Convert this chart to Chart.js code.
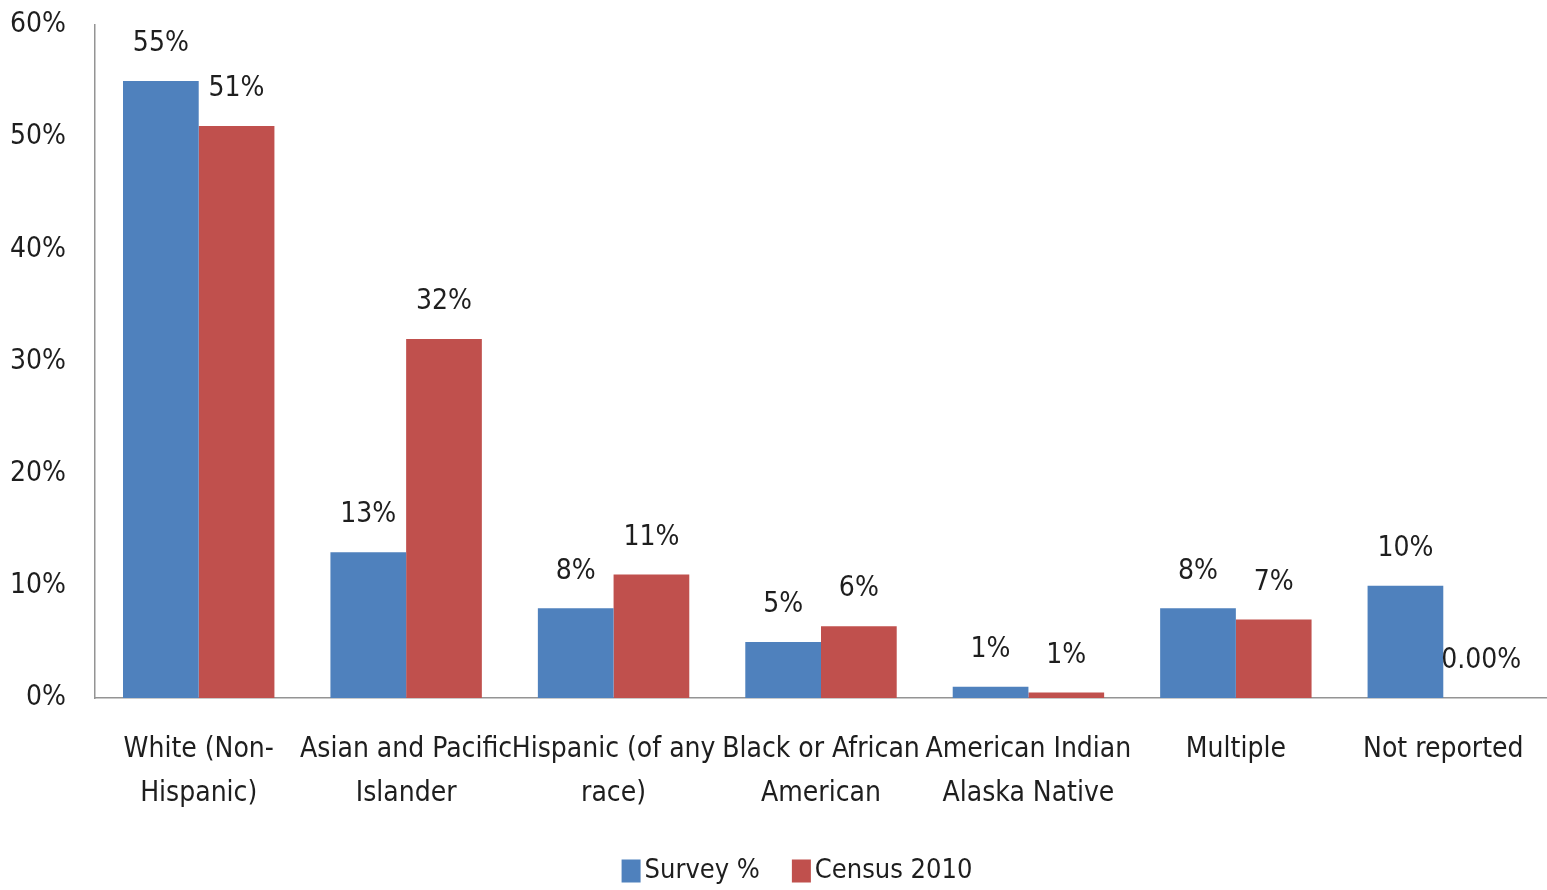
<!DOCTYPE html>
<html>
<head>
<meta charset="utf-8">
<title>Survey vs Census 2010</title>
<script src="https://cdn.jsdelivr.net/npm/chart.js@4.4.1/dist/chart.umd.min.js"></script>
<style>
  html, body { margin: 0; padding: 0; background: #fff; }
  #wrap { width: 1547px; height: 890px; }
</style>
</head>
<body>
<div id="wrap"><canvas id="raceChart" width="1547" height="890"></canvas></div>
<script>
// Data
const categories = [
  ["White (Non-", "Hispanic)"],
  ["Asian and Pacific", "Islander"],
  ["Hispanic (of any", "race)"],
  ["Black or African", "American"],
  ["American Indian", "Alaska Native"],
  ["Multiple"],
  ["Not reported"]
];
const surveyValues = [55, 13, 8, 5, 1, 8, 10];
const censusValues = [51, 32, 11, 6.4, 0.5, 7, 0];
const yTicks = [0, 10, 20, 30, 40, 50, 60];

const FONT = "'Liberation Sans Narrow', 'DejaVu Sans Condensed', 'Liberation Sans', sans-serif";
const TEXT = "#1e1e1e";

function pctLabel(v) {
  return v === 0 ? "0.00%" : Math.round(v) + "%";
}

// value labels above each bar
const barLabels = {
  id: "barLabels",
  afterDatasetsDraw(chart) {
    const ctx = chart.ctx;
    ctx.save();
    ctx.font = "28px " + FONT;
    ctx.fillStyle = TEXT;
    ctx.textAlign = "center";
    ctx.textBaseline = "middle";
    chart.data.datasets.forEach((ds, i) => {
      chart.getDatasetMeta(i).data.forEach((bar, j) => {
        ctx.fillText(pctLabel(ds.data[j]), bar.x, bar.y - 37);
      });
    });
    ctx.restore();
  }
};

// legend drawn under the axis labels (square, small gap, then text)
const bottomLegend = {
  id: "bottomLegend",
  afterDraw(chart) {
    const ctx = chart.ctx;
    ctx.save();
    ctx.font = "27px " + FONT;
    ctx.textBaseline = "middle";
    ctx.textAlign = "left";
    const y = 871;
    const items = chart.data.datasets.map(ds => ({ text: ds.label, color: ds.backgroundColor }));
    const box = 19, gap = 4, spacing = 32;
    let total = 0;
    items.forEach((it, i) => {
      it.w = ctx.measureText(it.text).width;
      total += box + gap + it.w + (i ? spacing : 0);
    });
    let x = 797 - total / 2;
    items.forEach(it => {
      ctx.fillStyle = it.color;
      ctx.fillRect(x, y - 11.5, box, 23);
      ctx.fillStyle = TEXT;
      ctx.fillText(it.text, x + box + gap, y);
      x += box + gap + it.w + spacing;
    });
    ctx.restore();
  }
};

Chart.defaults.font.family = FONT;
Chart.defaults.color = TEXT;

new Chart(document.getElementById("raceChart"), {
  type: "bar",
  data: {
    labels: categories,
    datasets: [{
      label: "Survey %",
      data: surveyValues,
      backgroundColor: "#4F81BD"
    }, {
      label: "Census 2010",
      data: censusValues,
      backgroundColor: "#C0504D"
    }]
  },
  options: {
    responsive: false,
    animation: false,
    devicePixelRatio: 1,
    layout: { padding: { top: 25, right: -8, bottom: 80, left: 0 } },
    datasets: {
      bar: { categoryPercentage: 0.73, barPercentage: 1.0 }
    },
    scales: {
      x: {
        afterFit(scale) { scale.height = 112; },
        grid: { display: false },
        border: { display: true, color: "#949494", width: 1.5 },
        ticks: {
          font: { size: 28, lineHeight: 1.57 },
          padding: 22,
          maxRotation: 0,
          autoSkip: false
        }
      },
      y: {
        min: 0,
        max: 60,
        afterFit(scale) {
          scale.width = 95;
          scale.paddingTop = 0;
          scale.paddingBottom = 0;
        },
        afterBuildTicks(scale) { scale.ticks = yTicks.map(v => ({ value: v })); },
        grid: { display: false },
        border: { display: true, color: "#949494", width: 1.5 },
        ticks: {
          font: { size: 28 },
          padding: 21,
          callback: v => v + "%"
        }
      }
    },
    plugins: {
      legend: { display: false },
      tooltip: { enabled: false }
    }
  },
  plugins: [barLabels, bottomLegend]
});
</script>
</body>
</html>
